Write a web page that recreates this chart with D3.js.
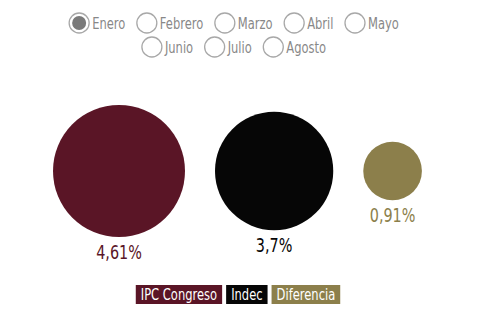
<!DOCTYPE html>
<html>
<head>
<meta charset="utf-8">
<script src="https://cdn.jsdelivr.net/npm/d3@7"></script>
<style>
  body { margin: 0; background: #fff; }
  svg text { font-family: "DejaVu Sans", sans-serif; }
</style>
</head>
<body>
<div id="chart"></div>
<script>
// datos
let meses = ['Enero', 'Febrero', 'Marzo', 'Abril', 'Mayo', 'Junio', 'Julio', 'Agosto']
let filas = [5, 3] // meses por fila
let seleccionado = 'Enero'
let series = ['IPC Congreso', 'Indec', 'Diferencia']
let valores = [4.61, 3.7, 0.91]
let etiquetas = ['4,61%', '3,7%', '0,91%']
let colores = ['#5a1526', '#060606', '#8c7f4b']

let width = 490
let height = 315
let sx = 0.72 // letra angosta

let svg = d3.select('#chart').append('svg')
    .attr('width', width)
    .attr('height', height)

function narrowText (parent, x, y, txt, size) {
    return parent.append('text')
        .attr('transform', 'translate (' + x + ', ' + y + ') scale(' + sx + ', 1)')
        .text(txt)
        .style('font-size', size)
}

// radios
let radioGroup = svg.append('g').attr('id', 'radios')
let r = 10
let start = 0
filas.forEach((n, fi) => {
    let fila = meses.slice(start, start + n)
    start += n
    let g = radioGroup.append('g')
    let x = 0
    fila.forEach(m => {
        let item = g.append('g').attr('transform', 'translate (' + x + ', 0)')
        item.append('circle')
            .attr('cx', r).attr('cy', 0).attr('r', r)
            .attr('fill', '#fff')
            .style('stroke', '#a8a8a8')
            .style('stroke-width', 1.3)
        if (m == seleccionado) {
            item.append('circle')
                .attr('cx', r).attr('cy', 0).attr('r', 7)
                .attr('fill', '#7a7a7a')
        }
        let t = narrowText(item, 2 * r + 3, 6, m, '16px')
            .style('fill', '#888')
        x += 2 * r + 3 + t.node().getComputedTextLength() * sx + 11.5
    })
    let w = x - 11.5
    g.attr('transform', 'translate (' + (234 - w / 2) + ', ' + (23 + fi * 24) + ')')
})

// burbujas: separadas por un hueco fijo
let rScale = d3.scaleSqrt().domain([0, d3.max(valores)]).range([0, 66])
let gap = 30
let cy = 171
let cx = []
let acc = 53
valores.forEach(v => {
    cx.push(acc + rScale(v))
    acc += 2 * rScale(v) + gap
})

let burbujas = svg.append('g').attr('id', 'burbujas')
series.forEach((s, i) => {
    burbujas.append('circle')
        .attr('cx', cx[i])
        .attr('cy', cy)
        .attr('r', rScale(valores[i]))
        .attr('fill', colores[i])
    narrowText(burbujas, cx[i], cy + rScale(valores[i]) + 22, etiquetas[i], '20px')
        .style('text-anchor', 'middle')
        .style('fill', colores[i])
})

// leyenda
let leyenda = svg.append('g').attr('id', 'leyenda')
let lx = 0
series.forEach((s, i) => {
    let item = leyenda.append('g').attr('transform', 'translate (' + lx + ', 0)')
    let rect = item.append('rect')
        .attr('height', 19)
        .attr('fill', colores[i])
    let t = narrowText(item, 5, 15, s, '16px')
        .style('fill', '#fff')
    let w = t.node().getComputedTextLength() * sx + 10
    rect.attr('width', w)
    lx += w + 4
})
leyenda.attr('transform', 'translate (' + (238 - (lx - 4) / 2) + ', 285)')
</script>
</body>
</html>
